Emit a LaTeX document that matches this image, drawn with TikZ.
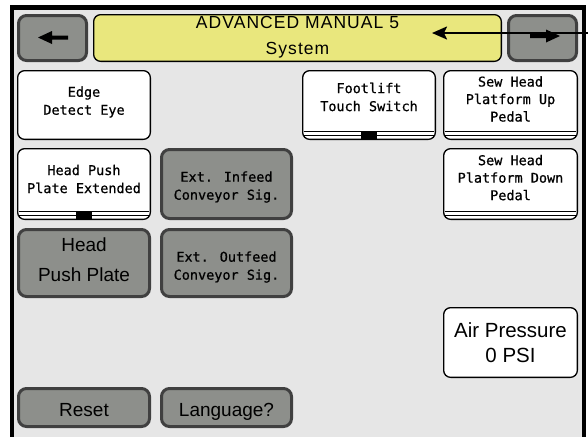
\documentclass[tikz,border=0pt]{standalone}
\usepackage{fontspec}
\setmainfont{Liberation Sans}
\newfontfamily\panelmono[FakeBold=0.7]{DejaVu Sans Mono}
\newfontfamily\titlefont[LetterSpace=6]{Liberation Sans}
\usetikzlibrary{arrows.meta}
\definecolor{screenbg}{RGB}{230,230,230}
\definecolor{keyfill}{RGB}{141,143,139}
\definecolor{keyedge}{RGB}{64,64,64}
\definecolor{titlefill}{RGB}{233,231,125}
\tikzset{
  graykey/.style={draw=keyedge, fill=keyfill, line width=3pt, rounded corners=8pt, inner sep=0pt, outer sep=0pt},
  whitekey/.style={draw=black, fill=white, line width=1.3pt, rounded corners=7pt, inner sep=0pt, outer sep=0pt},
  smalltext/.style={font=\panelmono\fontsize{13.5}{18}\selectfont, align=center, inner sep=0pt},
  bigtext/.style={font=\fontsize{19}{30}\selectfont, align=center, inner sep=0pt},
}
\begin{document}
\begin{tikzpicture}[x=1pt, y=-1pt]
        \useasboundingbox (0,0) rectangle (588,437);
        \fill [white] (0,0) rectangle (588,437);
        % screen frame
        \fill [black] (10,5) rectangle (586,437);
        \fill [screenbg] (14,10) rectangle (582,437);
        % top row
        \node [graykey, minimum width=68, minimum height=45] (back) at (52.5,38) {};
        \node [whitekey, fill=titlefill, minimum width=407.7, minimum height=46.7] (title) at (297.5,38) {};
        \node [graykey, minimum width=68, minimum height=45] (next) at (542.5,38) {};
        \node [font=\titlefont\fontsize{17.5}{26}\selectfont, align=center, inner sep=0pt] (titletxt) at (297.5,37.5) {ADVANCED MANUAL 5\\System};
        \fill (38,37.5) -- (52,31) -- (52,35.5) -- (68,35.5) -- (68,39.5) -- (52,39.5) -- (52,44) -- cycle;
        \fill (560,36) -- (546,29.5) -- (546,34) -- (530,34) -- (530,38) -- (546,38) -- (546,42.5) -- cycle;
        % inputs
        \node [whitekey, minimum width=132.7, minimum height=68.7] (edge) at (84,105) {};
        \node [whitekey, minimum width=132.7, minimum height=68.7] (footlift) at (369,105) {};
        \node [whitekey, minimum width=133.7, minimum height=68.7] (sewup) at (510.5,105) {};
        \node [whitekey, minimum width=132.7, minimum height=70.7] (hppext) at (84,184) {};
        \node [graykey, minimum width=130, minimum height=69] (infeed) at (226.5,184) {};
        \node [whitekey, minimum width=133.7, minimum height=70.7] (sewdown) at (510.5,184) {};
        \node [graykey, minimum width=131, minimum height=67] (hpp) at (84,263) {};
        \node [graykey, minimum width=130, minimum height=67] (outfeed) at (226.5,263) {};
        \node [whitekey, minimum width=133.7, minimum height=69.7] (air) at (510.5,342.5) {};
        \node [graykey, minimum width=131, minimum height=38] (reset) at (84,407.5) {};
        \node [graykey, minimum width=130, minimum height=38] (lang) at (226.5,407.5) {};
        % pedal trays
        \foreach \k in {footlift, sewup, hppext, sewdown} {
            \draw [line width=1.2pt] ([xshift=1pt, yshift=8pt]\k.south west) -- ([xshift=-1pt, yshift=8pt]\k.south east);
            \draw [line width=1.2pt] ([xshift=1.5pt, yshift=4pt]\k.south west) -- ([xshift=-1.5pt, yshift=4pt]\k.south east);
        }
        \fill ([xshift=-8pt]footlift.south) rectangle ([xshift=8pt, yshift=8pt]footlift.south);
        \fill ([xshift=-8pt]hppext.south) rectangle ([xshift=8pt, yshift=8pt]hppext.south);
        % labels
        \node [smalltext] (edgetxt) at (84,102) {Edge\\Detect Eye};
        \node [smalltext] (footlifttxt) at (369,97) {Footlift\\Touch Switch};
        \node [smalltext, font=\panelmono\fontsize{13.5}{17.5}\selectfont] (sewuptxt) at (510.5,99) {Sew Head\\Platform Up\\Pedal};
        \node [smalltext] (hppexttxt) at (84,179) {Head Push\\Plate Extended};
        \node [smalltext] (infeedtxt) at (226.5,187) {Ext. Infeed\\Conveyor Sig.};
        \node [smalltext, font=\panelmono\fontsize{13.5}{17.5}\selectfont] (sewdowntxt) at (510.5,177.6) {Sew Head\\Platform Down\\Pedal};
        \node [bigtext] (hpptxt) at (84,260) {Head\\Push Plate};
        \node [smalltext] (outfeedtxt) at (226.5,267) {Ext. Outfeed\\Conveyor Sig.};
        \node [bigtext, font=\fontsize{20.5}{25}\selectfont] (airtxt) at (510.5,342.7) {Air Pressure\\0 PSI};
        \node [bigtext] (resettxt) at (84,410) {Reset};
        \node [bigtext] (langtxt) at (226.5,412) {Language?};
        % callout
        \coordinate (callout) at (588,33);
        \coordinate (calltip) at (432,33);
        \draw [line width=2pt, -{Stealth[length=15pt, width=13pt, inset=3pt]}] (callout) -- (calltip);
\end{tikzpicture}
\end{document}
